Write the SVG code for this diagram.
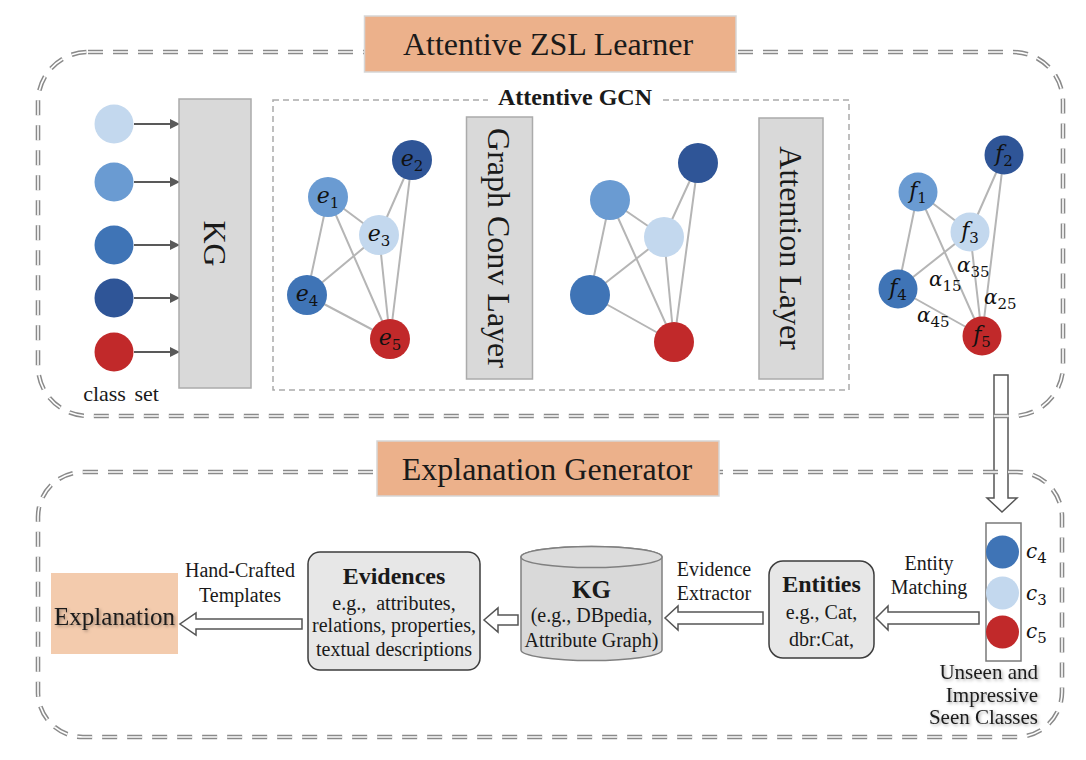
<svg xmlns="http://www.w3.org/2000/svg" width="1086" height="760" viewBox="0 0 1086 760">
<style>
text{font-family:"Liberation Serif","Times New Roman",serif;fill:#1a1a1a}
.panelO{fill:none;stroke:#8a8a8a;stroke-width:4.6;stroke-dasharray:15 10}
.panelI{fill:none;stroke:#fff;stroke-width:1.6;stroke-dasharray:15 10}
.title{fill:#ecb18b;stroke:#d6d6d6;stroke-width:1.5}
.ttl{font-size:32px;text-anchor:middle}
.grey{fill:#d9d9d9;stroke:#ababab;stroke-width:1.5}
.rot{font-size:32px;text-anchor:middle}
.edge{stroke:#b5b5b5;stroke-width:2;fill:none}
.arr{stroke:#595959;stroke-width:2;fill:none}
.hollow{fill:#fff;stroke:#555;stroke-width:1.5;stroke-linejoin:miter}
.c1{fill:#c3d8ee}.c2{fill:#6a9bd2}.c3{fill:#3f74b6}.c4{fill:#2f5597}.c5{fill:#c1292a}
.m{font-family:"DejaVu Serif",serif;font-size:22px;text-anchor:middle;font-style:italic;fill:#111}
.sub{font-family:"DejaVu Serif",serif;font-size:15px;font-style:normal}
.al{font-family:"DejaVu Serif",serif;font-size:20px;font-style:italic;fill:#111}
.lbl{font-size:20px;text-anchor:middle}
.box{fill:#e7e7e7;stroke:#3d3d3d;stroke-width:1.5}
.bold{font-weight:bold;font-size:24px;text-anchor:middle}
.usc{font-size:21px;text-anchor:end}
</style>
<defs>
<marker id="ah" markerWidth="10" markerHeight="10" refX="9" refY="5" orient="auto" markerUnits="userSpaceOnUse">
<path d="M0,0 L10,5 L0,10 Z" fill="#595959"/>
</marker>
<filter id="sh" x="-20%" y="-30%" width="140%" height="160%">
<feDropShadow dx="1.5" dy="1.5" stdDeviation="1.5" flood-color="#000" flood-opacity="0.35"/>
</filter>
</defs>
<rect width="1086" height="760" fill="#fff"/>

<g id="connectors">
<line class="arr" x1="134" y1="124" x2="179" y2="124" marker-end="url(#ah)"/>
<line class="arr" x1="134" y1="182" x2="179" y2="182" marker-end="url(#ah)"/>
<line class="arr" x1="134" y1="245" x2="179" y2="245" marker-end="url(#ah)"/>
<line class="arr" x1="134" y1="298" x2="179" y2="298" marker-end="url(#ah)"/>
<line class="arr" x1="134" y1="352" x2="179" y2="352" marker-end="url(#ah)"/>
<path class="edge" d="M328,197 L307,295 M328,197 L379,235 M328,197 L390,339 M412,160 L379,235 M412,160 L390,339 M379,235 L307,295 M379,235 L390,339 M307,295 L390,339"/>
<path class="edge" d="M610,200 L590,295 M610,200 L664,237 M610,200 L674,342 M698,163 L664,237 M698,163 L674,342 M664,237 L590,295 M664,237 L674,342 M590,295 L674,342"/>
<path class="edge" d="M918,192 L898,289 M918,192 L970,232 M918,192 L982,336 M1004,155 L970,232 M1004,155 L982,336 M970,232 L898,289 M970,232 L982,336 M898,289 L982,336"/>
<polygon class="hollow" points="994,375 1008,375 1008,498 1017,498 1002,512 987,498 994,498"/>
<polygon class="hollow" points="302,619 196,619 196,613 180,624 196,635 196,629 302,629"/>
<polygon class="hollow" points="518,615 498,615 498,608 484,620 498,632 498,625 518,625"/>
<polygon class="hollow" points="763,612 678,612 678,606 665,618 678,630 678,624 763,624"/>
<polygon class="hollow" points="979,612 888,612 888,606 876,618 888,630 888,624 979,624"/>
</g>

<g id="panels">
<rect class="panelO" x="38" y="52" width="1025" height="364" rx="50"/>
<rect class="panelI" x="38" y="52" width="1025" height="364" rx="50"/>
<rect class="panelO" x="38" y="472" width="1024" height="265" rx="45"/>
<rect class="panelI" x="38" y="472" width="1024" height="265" rx="45"/>
</g>

<g id="title-zsl">
<rect class="title" x="364.5" y="16" width="371.5" height="56"/>
<text class="ttl" x="548" y="55">Attentive ZSL Learner</text>
</g>
<g id="title-expl">
<rect class="title" x="377" y="441" width="342" height="55"/>
<text class="ttl" x="547" y="480">Explanation Generator</text>
</g>

<g id="class-set">
<circle class="c1" cx="114" cy="124" r="19.5"/>
<circle class="c2" cx="114" cy="182" r="19.5"/>
<circle class="c3" cx="114" cy="245" r="19.5"/>
<circle class="c4" cx="114" cy="298" r="19.5"/>
<circle class="c5" cx="114" cy="352" r="19.5"/>
<text x="121" y="401" font-size="22" text-anchor="middle" word-spacing="3">class set</text>
</g>

<g id="kg-top">
<rect class="grey" x="179" y="99" width="72" height="289"/>
<text class="rot" transform="translate(215,243.5) rotate(90)" x="0" y="11">KG</text>
</g>

<g id="attentive-gcn">
<rect x="273" y="100" width="576" height="290" fill="none" stroke="#ababab" stroke-width="1.5" stroke-dasharray="6 4"/>
<rect x="488" y="88" width="175" height="22" fill="#fff"/>
<text x="575" y="105" font-size="24" font-weight="bold" text-anchor="middle">Attentive GCN</text>
</g>

<g id="graph-e">
<circle class="c2" cx="328" cy="197" r="20"/>
<circle class="c4" cx="412" cy="160" r="20"/>
<circle class="c1" cx="379" cy="235" r="20"/>
<circle class="c3" cx="307" cy="295" r="20"/>
<circle class="c5" cx="390" cy="339" r="20"/>
<text class="m" x="328" y="203">e<tspan class="sub" dy="5">1</tspan></text>
<text class="m" x="412" y="166">e<tspan class="sub" dy="5">2</tspan></text>
<text class="m" x="379" y="241">e<tspan class="sub" dy="5">3</tspan></text>
<text class="m" x="307" y="301">e<tspan class="sub" dy="5">4</tspan></text>
<text class="m" x="390" y="345">e<tspan class="sub" dy="5">5</tspan></text>
</g>

<g id="graph-conv-layer">
<rect class="grey" x="466.5" y="117" width="66" height="262"/>
<text class="rot" transform="translate(499,248) rotate(90)" x="0" y="11">Graph Conv Layer</text>
</g>

<g id="graph-mid">
<circle class="c2" cx="610" cy="200" r="20"/>
<circle class="c4" cx="698" cy="163" r="20"/>
<circle class="c1" cx="664" cy="237" r="20"/>
<circle class="c3" cx="590" cy="295" r="20"/>
<circle class="c5" cx="674" cy="342" r="20"/>
</g>

<g id="attention-layer">
<rect class="grey" x="759" y="118" width="64" height="261"/>
<text class="rot" transform="translate(791,248) rotate(90)" x="0" y="11">Attention Layer</text>
</g>

<g id="graph-f">
<circle class="c2" cx="918" cy="192" r="19.5"/>
<circle class="c4" cx="1004" cy="155" r="19.5"/>
<circle class="c1" cx="970" cy="232" r="19.5"/>
<circle class="c3" cx="898" cy="289" r="19.5"/>
<circle class="c5" cx="982" cy="336" r="19.5"/>
<text class="m" x="918" y="198">f<tspan class="sub" dy="5">1</tspan></text>
<text class="m" x="1004" y="161">f<tspan class="sub" dy="5">2</tspan></text>
<text class="m" x="970" y="238">f<tspan class="sub" dy="5">3</tspan></text>
<text class="m" x="898" y="295">f<tspan class="sub" dy="5">4</tspan></text>
<text class="m" x="982" y="342">f<tspan class="sub" dy="5">5</tspan></text>
<text class="al" x="957" y="272">α<tspan class="sub" font-size="14" dy="5">35</tspan></text>
<text class="al" x="929" y="286">α<tspan class="sub" font-size="14" dy="5">15</tspan></text>
<text class="al" x="984" y="304">α<tspan class="sub" font-size="14" dy="5">25</tspan></text>
<text class="al" x="917" y="322">α<tspan class="sub" font-size="14" dy="5">45</tspan></text>
</g>

<g id="explanation">
<rect x="51" y="573" width="127" height="81" fill="#f3cbad"/>
<text x="114.5" y="625" font-size="25" text-anchor="middle" filter="url(#sh)">Explanation</text>
</g>
<g id="label-templates">
<text class="lbl" x="240" y="577">Hand-Crafted</text>
<text class="lbl" x="240" y="602">Templates</text>
</g>

<g id="evidences">
<rect class="box" x="308" y="552" width="172" height="118" rx="12"/>
<text class="bold" x="394" y="584">Evidences</text>
<text class="lbl" x="394" y="610" xml:space="preserve">e.g.,  attributes,</text>
<text class="lbl" x="394" y="632">relations, properties,</text>
<text class="lbl" x="394" y="656">textual descriptions</text>
</g>

<g id="kg-bottom">
<path d="M521,557 L521,650 A70.5,10.5 0 0 0 662,650 L662,557 A70.5,10.5 0 0 0 521,557 Z" fill="#d9d9d9" stroke="#808080" stroke-width="1.5"/>
<ellipse cx="591.5" cy="557" rx="70.5" ry="10.5" fill="#dcdcdc" stroke="#808080" stroke-width="1.5"/>
<text x="591.5" y="598" font-size="25" font-weight="bold" text-anchor="middle">KG</text>
<text class="lbl" x="591.5" y="622">(e.g., DBpedia,</text>
<text class="lbl" x="591.5" y="647">Attribute Graph)</text>
</g>
<g id="label-extractor">
<text class="lbl" x="714" y="576">Evidence</text>
<text class="lbl" x="714" y="600">Extractor</text>
</g>

<g id="entities">
<rect class="box" x="769" y="561" width="105" height="97" rx="14"/>
<text class="bold" x="821.5" y="592">Entities</text>
<text class="lbl" x="821.5" y="619">e.g., Cat,</text>
<text class="lbl" x="821.5" y="646">dbr:Cat,</text>
</g>
<g id="label-matching">
<text class="lbl" x="929" y="570">Entity</text>
<text class="lbl" x="929" y="594">Matching</text>
</g>

<g id="unseen-classes">
<rect x="986" y="523" width="35" height="138" fill="#fff" stroke="#7a7a7a" stroke-width="1.5"/>
<circle class="c3" cx="1002.5" cy="552" r="16.5"/>
<circle class="c1" cx="1002.5" cy="593" r="16.5"/>
<circle class="c5" cx="1002.5" cy="632" r="16.5"/>
<text class="al" x="1026" y="558" font-size="22">c<tspan class="sub" dy="5">4</tspan></text>
<text class="al" x="1026" y="600" font-size="22">c<tspan class="sub" dy="5">3</tspan></text>
<text class="al" x="1026" y="638" font-size="22">c<tspan class="sub" dy="5">5</tspan></text>
<g filter="url(#sh)">
<text class="usc" x="1038" y="679">Unseen and</text>
<text class="usc" x="1038" y="701.5">Impressive</text>
<text class="usc" x="1038" y="724">Seen Classes</text>
</g>
</g>
</svg>
